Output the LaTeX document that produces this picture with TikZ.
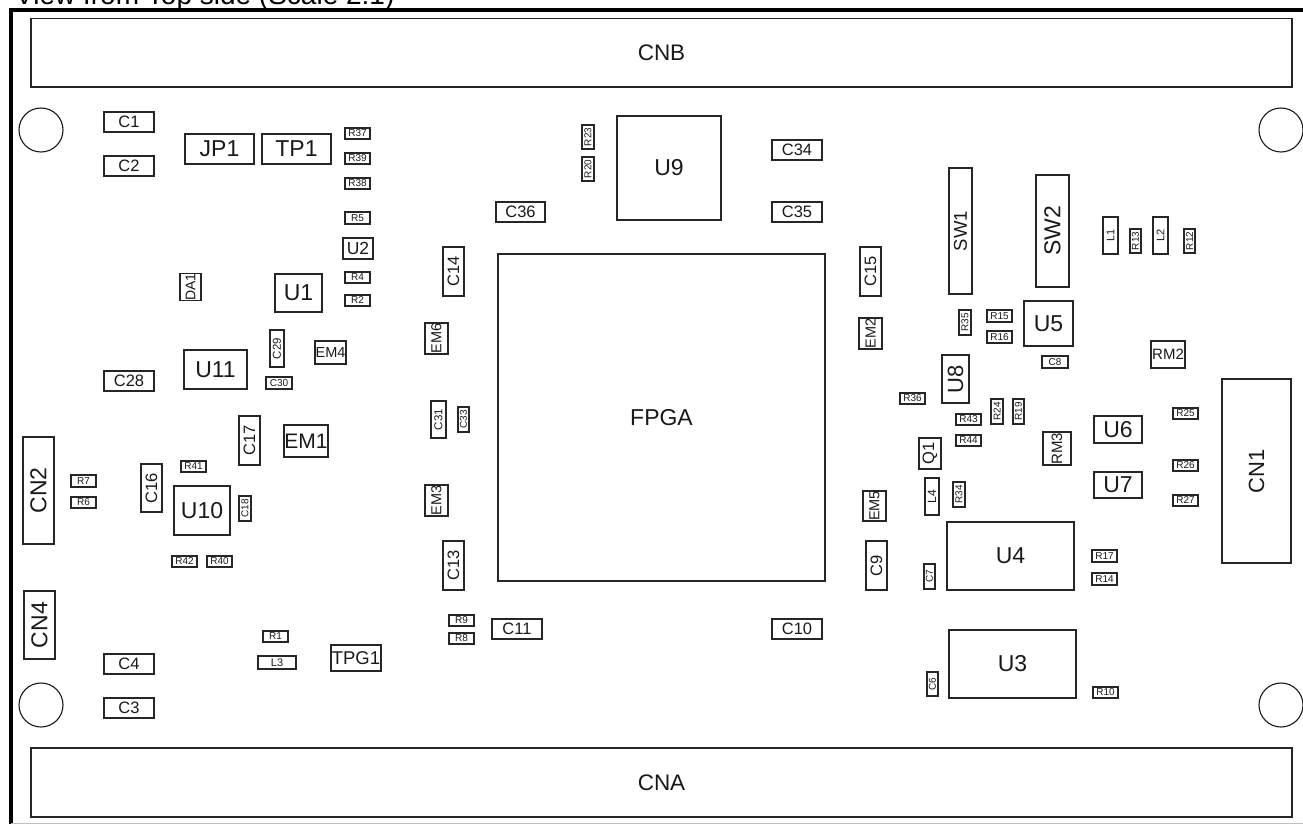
\documentclass[tikz,border=0pt]{standalone}
\usepackage{fontspec}
\setmainfont{Liberation Sans}
\tikzset{
  comp/.style={draw=black!85,line width=1.1pt,inner sep=0pt,outer sep=0pt,text=black!90},
  hole/.style={draw=black!90,line width=1.1pt,inner sep=0pt,outer sep=0pt,circle,minimum size=44pt},
  boardedge/.style={draw=black,line width=4pt}
}
% x1 y1 x2 y2 size rotation text
\newcommand{\pcbpart}[7]{%
  \pgfmathsetmacro{\pcx}{(#1+#3)/2}%
  \pgfmathsetmacro{\pcy}{(#2+#4)/2}%
  \pgfmathsetmacro{\pcw}{#3-#1}%
  \pgfmathsetmacro{\pch}{#4-#2}%
  \node[comp,minimum width=\pcw pt,minimum height=\pch pt] (#7) at (\pcx,\pcy)
    {\fontsize{#5pt}{#5pt}\selectfont\rotatebox[origin=c]{#6}{#7}};%
}
\begin{document}
\begin{tikzpicture}[x=1pt,y=-1pt]
\useasboundingbox (0,0) rectangle (1303,824);
\clip (0,0) rectangle (1303,824);
\node[anchor=base west,inner sep=0pt,font=\fontsize{28pt}{28pt}\selectfont] (title) at (15,4.5) {View from Top side (Scale 2:1)};
\coordinate (fa) at (11,824);
\coordinate (fb) at (11,10);
\coordinate (fc) at (1303,10);
\draw[boardedge] (fa) -- (fb) -- (fc);
\coordinate (ga) at (11,823.5);
\coordinate (gb) at (1303,823.5);
\draw[black!25,line width=1pt] (ga) -- (gb);
\pcbpart{31}{18.5}{1292}{87}{22.5}{0}{CNB}
\pcbpart{31}{748}{1292}{817}{22.5}{0}{CNA}
\node[hole] (h1) at (41,130) {};
\node[hole] (h2) at (1281,130) {};
\node[hole] (h3) at (41,705) {};
\node[hole] (h4) at (1281,705) {};
\pcbpart{498}{254}{825}{581}{23}{0}{FPGA}
\pcbpart{617}{116}{721}{220}{23}{0}{U9}
\pcbpart{772}{140}{822}{160}{16.5}{0}{C34}
\pcbpart{772}{202}{822}{222}{16.5}{0}{C35}
\pcbpart{496}{202}{545}{222}{16.5}{0}{C36}
\pcbpart{582}{125}{594}{149}{10}{90}{R23}
\pcbpart{582}{157}{594}{181}{10}{90}{R20}
\pcbpart{772}{619}{822}{639}{16.5}{0}{C10}
\pcbpart{949}{630}{1076}{698}{23}{0}{U3}
\pcbpart{927}{672}{938}{696}{10}{90}{C6}
\pcbpart{1093}{687}{1118}{698}{10}{0}{R10}
% left top
\pcbpart{104}{112}{154}{132}{16.5}{0}{C1}
\pcbpart{104}{156}{154}{176}{16.5}{0}{C2}
\pcbpart{185}{134}{254}{164}{23}{0}{JP1}
\pcbpart{262}{134}{331}{164}{23}{0}{TP1}
\pcbpart{345}{128}{370}{139}{10}{0}{R37}
\pcbpart{345}{153}{370}{164}{10}{0}{R39}
\pcbpart{345}{178}{370}{189}{10}{0}{R38}
\pcbpart{345}{212}{370}{224}{10}{0}{R5}
\pcbpart{343}{238}{373}{259}{17.5}{0}{U2}
\pcbpart{345}{272}{370}{283}{10}{0}{R4}
\pcbpart{345}{295}{370}{306}{10}{0}{R2}
\pcbpart{180}{274}{201}{300}{14}{90}{DA1}
\pcbpart{275}{274}{322}{312}{23}{0}{U1}
\pcbpart{443}{247}{464}{296}{16.5}{90}{C14}
\pcbpart{270}{330}{284}{367}{11.5}{90}{C29}
\pcbpart{315}{341}{346}{364}{14.5}{0}{EM4}
\pcbpart{425}{323}{448}{354}{14.5}{90}{EM6}
\pcbpart{184}{350}{247}{389}{23}{0}{U11}
\pcbpart{104}{371}{154}{391}{16.5}{0}{C28}
\pcbpart{266}{377}{292}{389}{10}{0}{C30}
\pcbpart{431}{401}{446}{438}{11.5}{90}{C31}
\pcbpart{458}{407}{469}{432}{10}{90}{C33}
\pcbpart{239}{416}{260}{465}{16.5}{90}{C17}
\pcbpart{284}{425}{328}{457}{21}{0}{EM1}
\pcbpart{23}{437}{54}{544}{23}{90}{CN2}
\pcbpart{71}{475}{96}{487}{10}{0}{R7}
\pcbpart{71}{497}{96}{508}{10}{0}{R6}
\pcbpart{141}{464}{162}{512}{16.5}{90}{C16}
\pcbpart{181}{461}{206}{472}{10}{0}{R41}
\pcbpart{174}{486}{230}{535}{23}{0}{U10}
\pcbpart{239}{496}{251}{521}{10}{90}{C18}
\pcbpart{425}{485}{448}{516}{14.5}{90}{EM3}
\pcbpart{172}{556}{197}{567}{10}{0}{R42}
\pcbpart{207}{556}{232}{567}{10}{0}{R40}
\pcbpart{443}{541}{464}{590}{16.5}{90}{C13}
% left bottom
\pcbpart{24}{591}{55}{659}{23}{90}{CN4}
\pcbpart{104}{654}{154}{674}{16.5}{0}{C4}
\pcbpart{104}{698}{154}{718}{16.5}{0}{C3}
\pcbpart{258}{656}{296}{669}{11}{0}{L3}
\pcbpart{263}{631}{288}{642}{10}{0}{R1}
\pcbpart{331}{645}{381}{671}{18.5}{0}{TPG1}
\pcbpart{449}{615}{474}{626}{10}{0}{R9}
\pcbpart{449}{633}{474}{644}{10}{0}{R8}
\pcbpart{492}{619}{542}{639}{16.5}{0}{C11}
% right
\pcbpart{860}{247}{881}{296}{16.5}{90}{C15}
\pcbpart{949}{168}{972}{294}{18.5}{90}{SW1}
\pcbpart{1036}{175}{1069}{287}{23}{90}{SW2}
\pcbpart{1103}{217}{1118}{254}{11}{90}{L1}
\pcbpart{1130}{229}{1141}{253}{10}{90}{R13}
\pcbpart{1153}{217}{1168}{254}{11}{90}{L2}
\pcbpart{1184}{229}{1195}{253}{10}{90}{R12}
\pcbpart{859}{318}{882}{349}{14.5}{90}{EM2}
\pcbpart{959}{310}{971}{335}{10}{90}{R35}
\pcbpart{987}{310}{1012}{322}{10}{0}{R15}
\pcbpart{987}{331}{1012}{343}{10}{0}{R16}
\pcbpart{1024}{301}{1073}{346}{23}{0}{U5}
\pcbpart{1042}{356}{1068}{368}{10}{0}{C8}
\pcbpart{1151}{341}{1185}{368}{15}{0}{RM2}
\pcbpart{942}{355}{969}{403}{22}{90}{U8}
\pcbpart{900}{393}{925}{404}{10}{0}{R36}
\pcbpart{956}{414}{981}{425}{10}{0}{R43}
\pcbpart{956}{435}{981}{446}{10}{0}{R44}
\pcbpart{991}{399}{1003}{424}{10}{90}{R24}
\pcbpart{1013}{399}{1024}{424}{10}{90}{R19}
\pcbpart{1043}{432}{1071}{465}{15}{90}{RM3}
\pcbpart{1094}{416}{1142}{443}{23}{0}{U6}
\pcbpart{1094}{472}{1142}{498}{23}{0}{U7}
\pcbpart{1173}{408}{1198}{419}{10}{0}{R25}
\pcbpart{1173}{460}{1198}{471}{10}{0}{R26}
\pcbpart{1173}{495}{1198}{506}{10}{0}{R27}
\pcbpart{1222}{379}{1291}{563}{22}{90}{CN1}
\pcbpart{919}{438}{941}{469}{16.5}{90}{Q1}
\pcbpart{925}{478}{939}{515}{12}{90}{L4}
\pcbpart{953}{482}{965}{507}{10}{90}{R34}
\pcbpart{863}{491}{886}{521}{14.5}{90}{EM5}
\pcbpart{866}{541}{887}{590}{16.5}{90}{C9}
\pcbpart{924}{564}{935}{589}{10}{90}{C7}
\pcbpart{947}{522}{1074}{590}{23}{0}{U4}
\pcbpart{1092}{550}{1117}{562}{10}{0}{R17}
\pcbpart{1092}{573}{1117}{585}{10}{0}{R14}
\end{tikzpicture}
\end{document}
